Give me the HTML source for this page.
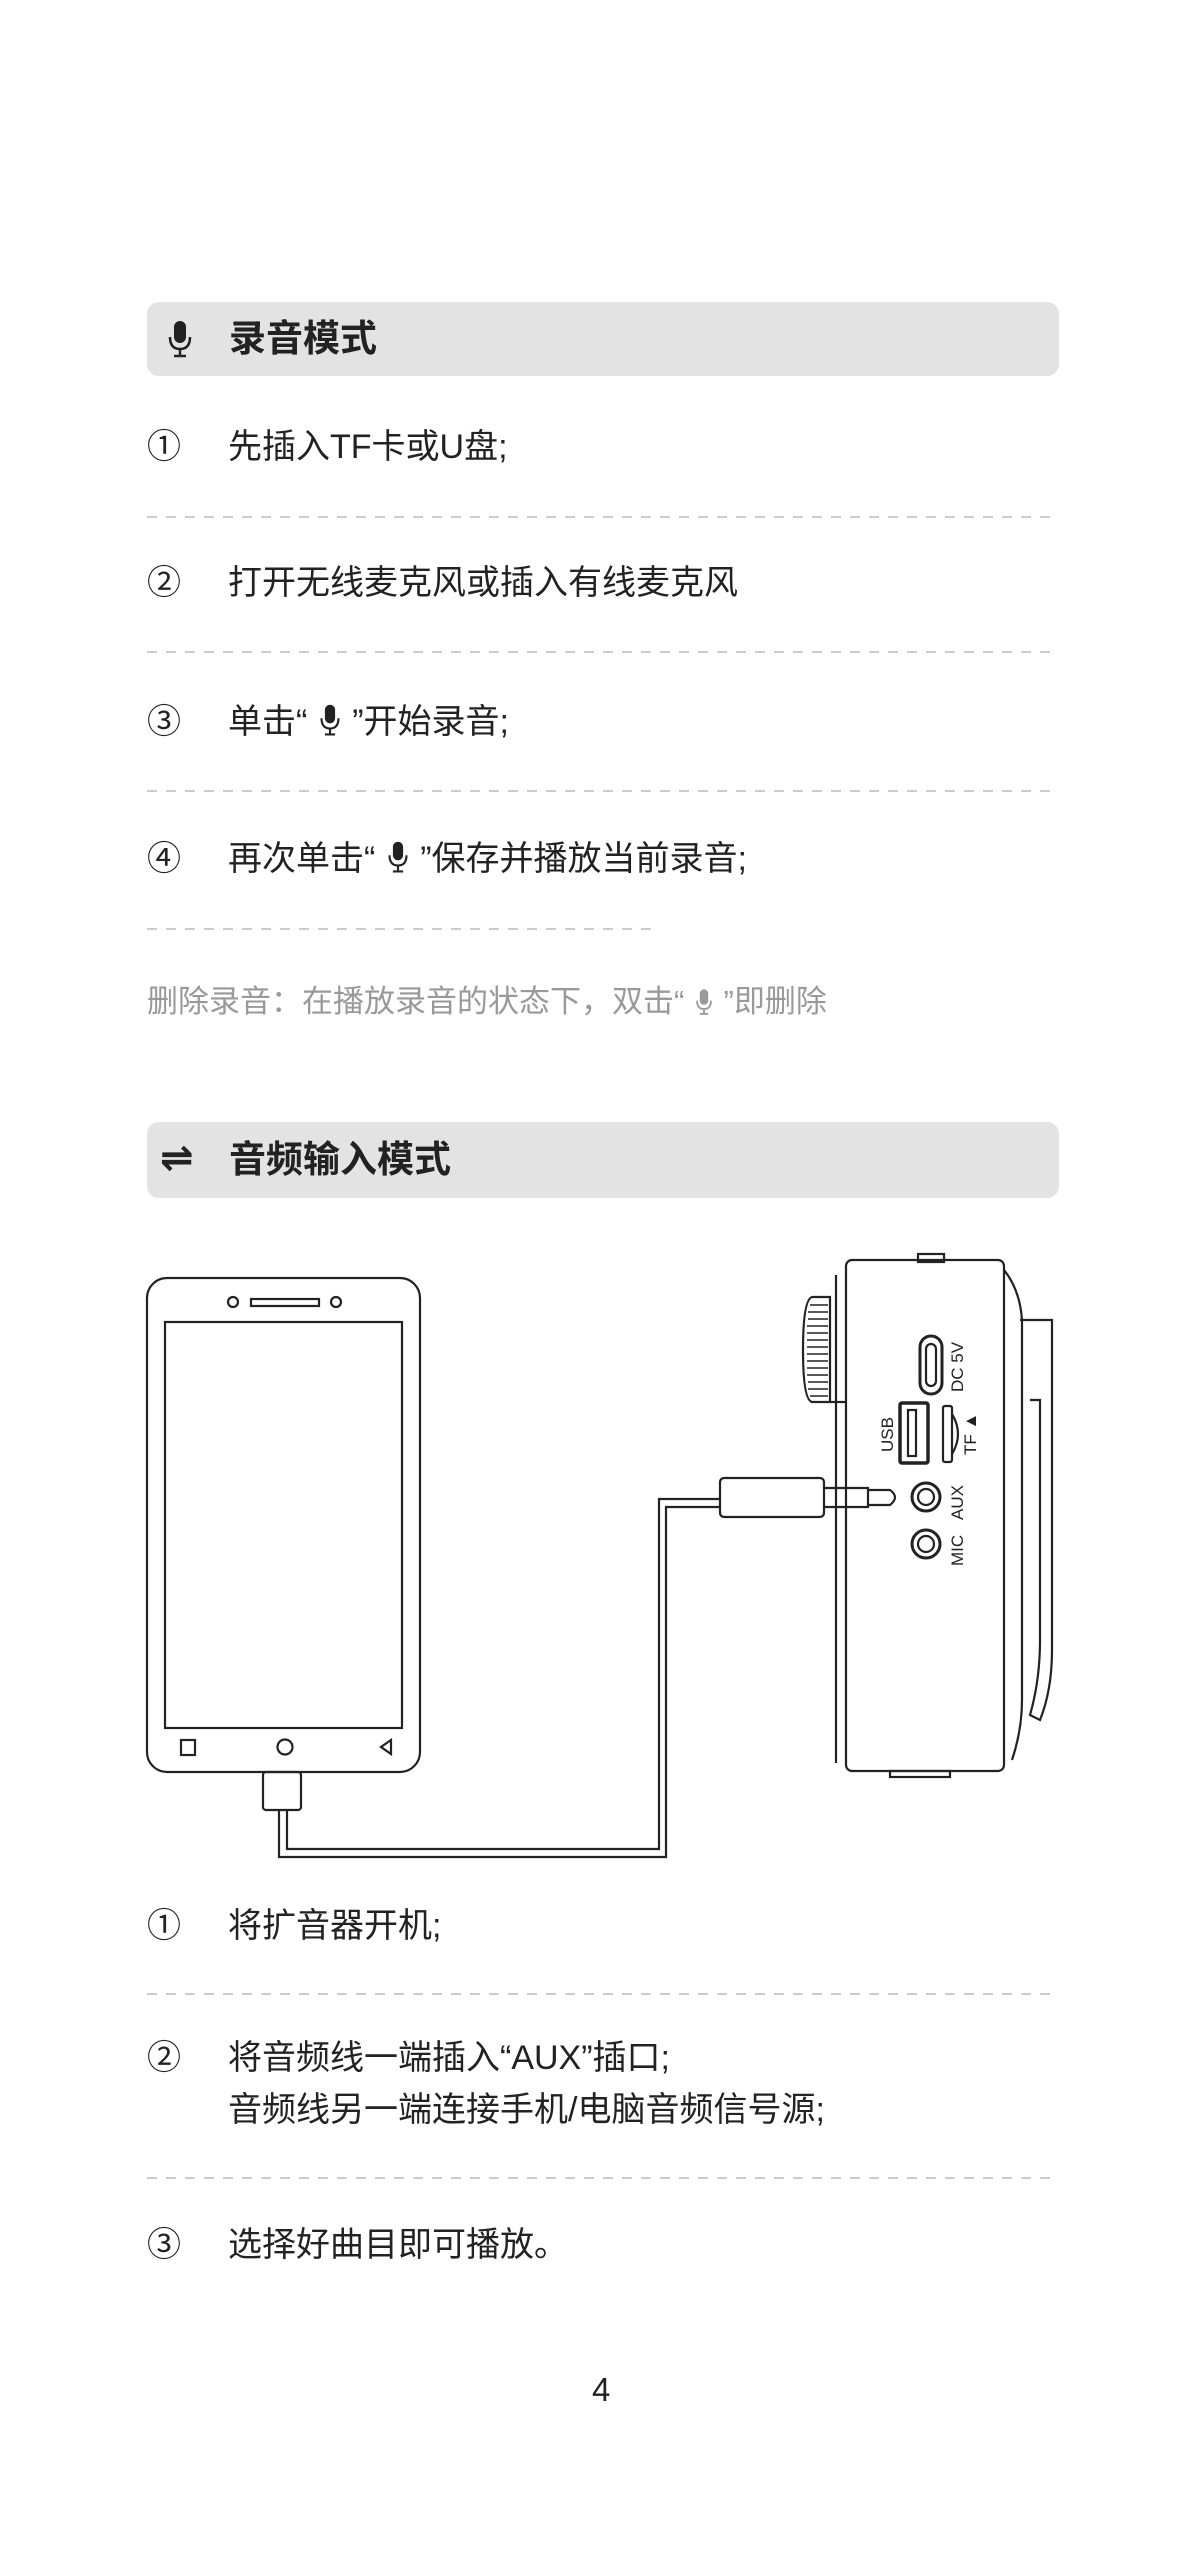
<!DOCTYPE html>
<html><head><meta charset="utf-8"><style>
body{margin:0;background:#fff;}
#p{position:relative;width:1204px;height:2560px;overflow:hidden;font-family:"Liberation Sans","Noto Sans CJK SC",sans-serif;color:#222;}
.t{position:absolute;white-space:nowrap;line-height:44px;height:44px;}
.n{left:147px;font-size:34px;}
.x{left:228px;font-size:34px;}
.hd{position:absolute;left:147px;width:912px;background:#e3e3e3;border-radius:12px;}
.ht{position:absolute;left:229px;font-size:37px;font-weight:bold;line-height:44px;}
svg.m{vertical-align:-4px}
</style></head><body><div id="p">

<div class="hd" style="top:302px;height:74px"></div>
<svg style="position:absolute;left:166px;top:319px" width="28" height="40" viewBox="0 0 28 40"><rect x="8" y="2" width="12" height="22" rx="6" fill="#222"/><path d="M4 18 Q4 30 14 30 Q24 30 24 18" fill="none" stroke="#222" stroke-width="2.5"/><line x1="14" y1="30" x2="14" y2="37" stroke="#222" stroke-width="2.5"/><line x1="8" y1="37" x2="20" y2="37" stroke="#222" stroke-width="2.5"/></svg>
<div class="ht" style="top:317px">录音模式</div>

<div class="t n" style="top:425px">①</div><div class="t x" style="top:425px">先插入TF卡或U盘;</div>
<div class="t n" style="top:561px">②</div><div class="t x" style="top:561px">打开无线麦克风或插入有线麦克风</div>
<div class="t n" style="top:700px">③</div><div class="t x" style="top:700px">单击“ <svg class="m" width="26" height="34" viewBox="0 0 28 40"><rect x="8" y="2" width="12" height="22" rx="6" fill="#222"/><path d="M4 18 Q4 30 14 30 Q24 30 24 18" fill="none" stroke="#222" stroke-width="2.5"/><line x1="14" y1="30" x2="14" y2="37" stroke="#222" stroke-width="2.5"/><line x1="8" y1="37" x2="20" y2="37" stroke="#222" stroke-width="2.5"/></svg> ”开始录音;</div>
<div class="t n" style="top:837px">④</div><div class="t x" style="top:837px">再次单击“ <svg class="m" width="26" height="34" viewBox="0 0 28 40"><rect x="8" y="2" width="12" height="22" rx="6" fill="#222"/><path d="M4 18 Q4 30 14 30 Q24 30 24 18" fill="none" stroke="#222" stroke-width="2.5"/><line x1="14" y1="30" x2="14" y2="37" stroke="#222" stroke-width="2.5"/><line x1="8" y1="37" x2="20" y2="37" stroke="#222" stroke-width="2.5"/></svg> ”保存并播放当前录音;</div>
<div class="t" style="top:980px;left:147px;font-size:31px;color:#999">删除录音：在播放录音的状态下，双击“ <svg class="m" width="22" height="28" viewBox="0 0 28 40"><rect x="8" y="2" width="12" height="22" rx="6" fill="#999"/><path d="M4 18 Q4 30 14 30 Q24 30 24 18" fill="none" stroke="#999" stroke-width="2.5"/><line x1="14" y1="30" x2="14" y2="37" stroke="#999" stroke-width="2.5"/><line x1="8" y1="37" x2="20" y2="37" stroke="#999" stroke-width="2.5"/></svg> ”即删除</div>

<div class="hd" style="top:1122px;height:76px"></div>
<div style="position:absolute;left:160px;top:1136px;font-size:40px;line-height:44px;font-weight:bold;font-family:'DejaVu Sans',sans-serif">⇌</div>
<div class="ht" style="top:1138px">音频输入模式</div>

<svg style="position:absolute;left:0;top:0" width="1204" height="2560">
<g stroke="#bbb" stroke-width="1.5" stroke-dasharray="10 9">
<line x1="147" y1="517" x2="1059" y2="517"/><line x1="147" y1="652" x2="1059" y2="652"/>
<line x1="147" y1="791" x2="1059" y2="791"/><line x1="147" y1="929" x2="655" y2="929"/>
<line x1="147" y1="1994" x2="1059" y2="1994"/><line x1="147" y1="2178" x2="1059" y2="2178"/>
</g>
<g fill="none" stroke="#222" stroke-width="2.2">
<rect x="147" y="1278" width="273" height="494" rx="20"/>
<rect x="165" y="1322" width="237" height="406"/>
<circle cx="233" cy="1302" r="5"/><circle cx="336" cy="1302" r="5"/>
<rect x="251" y="1299" width="68" height="7"/>
<rect x="181" y="1740" width="14" height="15"/>
<circle cx="285" cy="1747" r="7.5"/>
<path d="M391 1740 L381 1747 L391 1754 Z"/>
<rect x="263" y="1772" width="38" height="38" rx="3"/>
<path d="M279 1810 V1857 H666 V1507 H721"/>
<path d="M287 1810 V1849 H659 V1499 H721"/>
<rect x="720" y="1478" width="104" height="39" rx="4"/>
<path d="M824 1488 H868 V1507 H824 M868 1490 H890 Q900 1497 890 1505 H868"/>
<rect x="846" y="1260" width="158" height="511" rx="6"/>
<path d="M836 1275 V1763"/><path d="M830 1402 H846"/>
<rect x="918" y="1254" width="26" height="8"/>
<rect x="890" y="1771" width="60" height="6"/>
<path d="M830 1297 H812 Q803 1300 803 1350 Q803 1400 812 1402 H830 Z"/>
<g stroke-width="1.6"><path d="M810 1305 H828 M808 1312 H828 M808 1319 H828 M807 1326 H828 M807 1333 H828 M807 1340 H828 M807 1347 H828 M807 1354 H828 M807 1361 H828 M807 1368 H828 M807 1375 H828 M808 1382 H828 M808 1389 H828 M810 1396 H828"/></g>
<path d="M1004 1270 Q1020 1290 1022 1320 V1700 Q1022 1730 1012 1760"/>
<path d="M1020 1320 H1052 V1650 Q1052 1690 1040 1720 L1030 1715 Q1040 1680 1040 1640 V1400 H1030"/>
<rect x="920" y="1336" width="22" height="58" rx="11" stroke-width="3"/>
<rect x="926" y="1344" width="10" height="42" rx="5"/>
<rect x="900" y="1403" width="28" height="60" rx="2" stroke-width="3.5"/>
<rect x="908" y="1410" width="8" height="46"/>
<rect x="943" y="1406" width="9" height="56" rx="2"/>
<path d="M952 1414 Q964 1434 952 1454"/>
<circle cx="926" cy="1497" r="14" stroke-width="3"/><circle cx="926" cy="1497" r="8"/>
<circle cx="926" cy="1544" r="14" stroke-width="3"/><circle cx="926" cy="1544" r="8"/>
</g>
<g font-family="Liberation Sans,sans-serif" font-size="17" fill="#222">
<text transform="translate(963,1392) rotate(-90)">DC 5V</text>
<text transform="translate(893,1452) rotate(-90)">USB</text>
<text transform="translate(976,1455) rotate(-90)">TF ▲</text>
<text transform="translate(963,1520) rotate(-90)">AUX</text>
<text transform="translate(963,1566) rotate(-90)">MIC</text>
</g>
</svg>

<div class="t n" style="top:1904px">①</div><div class="t x" style="top:1904px">将扩音器开机;</div>
<div class="t n" style="top:2036px">②</div><div class="t x" style="top:2036px">将音频线一端插入“AUX”插口;</div>
<div class="t x" style="top:2088px">音频线另一端连接手机/电脑音频信号源;</div>
<div class="t n" style="top:2223px">③</div><div class="t x" style="top:2223px">选择好曲目即可播放。</div>
<div class="t" style="top:2368px;left:592px;font-size:33px">4</div>
</div></body></html>
